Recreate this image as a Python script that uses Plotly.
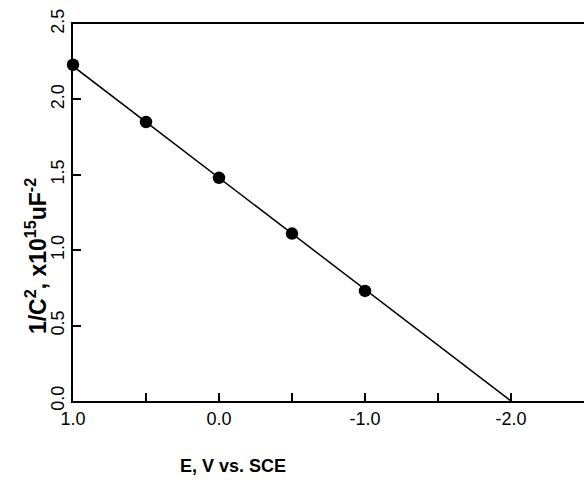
import plotly.graph_objects as go

# Data
potential_V = [1.0, 0.5, 0.0, -0.5, -1.0]
inv_c2 = [2.23, 1.85, 1.48, 1.11, 0.73]
fit_x = [1.0, -2.0]
fit_y = [2.22, 0.0]

x_tickvals = [1.0, 0.5, 0.0, -0.5, -1.0, -1.5, -2.0, -2.5]
x_ticktext = ["1.0", "", "0.0", "", "-1.0", "", "-2.0", ""]
y_tickvals = [0.0, 0.5, 1.0, 1.5, 2.0, 2.5]
y_ticktext = ["0.0", "0.5", "1.0", "1.5", "2.0", "2.5"]

x_title = "<b>E, V vs. SCE</b>"
y_title = "<b>1/C<sup>2</sup>, x10<sup>15</sup>uF<sup>-2</sup></b>"

fig = go.Figure()
fig.add_trace(go.Scatter(x=fit_x, y=fit_y, mode="lines",
                         line=dict(color="black", width=1.5),
                         showlegend=False, hoverinfo="skip"))
fig.add_trace(go.Scatter(x=potential_V, y=inv_c2, mode="markers",
                         marker=dict(color="black", size=12.5),
                         showlegend=False, cliponaxis=False))

font_family = "Liberation Sans, Arial, sans-serif"
tick_font = dict(family=font_family, size=18, color="black")
fig.update_layout(
    width=584, height=487,
    margin=dict(l=73, r=0, t=24, b=86),
    paper_bgcolor="white", plot_bgcolor="white",
    font=dict(family=font_family, color="black", size=18),
    xaxis=dict(
        range=[1.0, -2.5], showgrid=False, zeroline=False,
        showline=True, linecolor="black", linewidth=2, mirror=True,
        ticks="inside", ticklen=8, tickwidth=1.5, tickcolor="black",
        tickmode="array", tickvals=x_tickvals, ticktext=x_ticktext,
        tickfont=tick_font,
    ),
    yaxis=dict(
        range=[0, 2.5], showgrid=False, zeroline=False,
        showline=True, linecolor="black", linewidth=2, mirror=False,
        ticks="inside", ticklen=8, tickwidth=1.5, tickcolor="black",
        tickmode="array", tickvals=y_tickvals, ticktext=y_ticktext, tickangle=-90,
        tickfont=tick_font,
    ),
    annotations=[
        dict(text=x_title, xref="paper", yref="paper", x=0.313, y=-0.172,
             showarrow=False, font=dict(size=18), xanchor="center", yanchor="middle"),
        dict(text=y_title, xref="paper", yref="paper", x=-0.072, y=0.385,
             showarrow=False, font=dict(size=23), textangle=-90,
             xanchor="center", yanchor="middle"),
    ],
)

fig.write_html("out.html")
